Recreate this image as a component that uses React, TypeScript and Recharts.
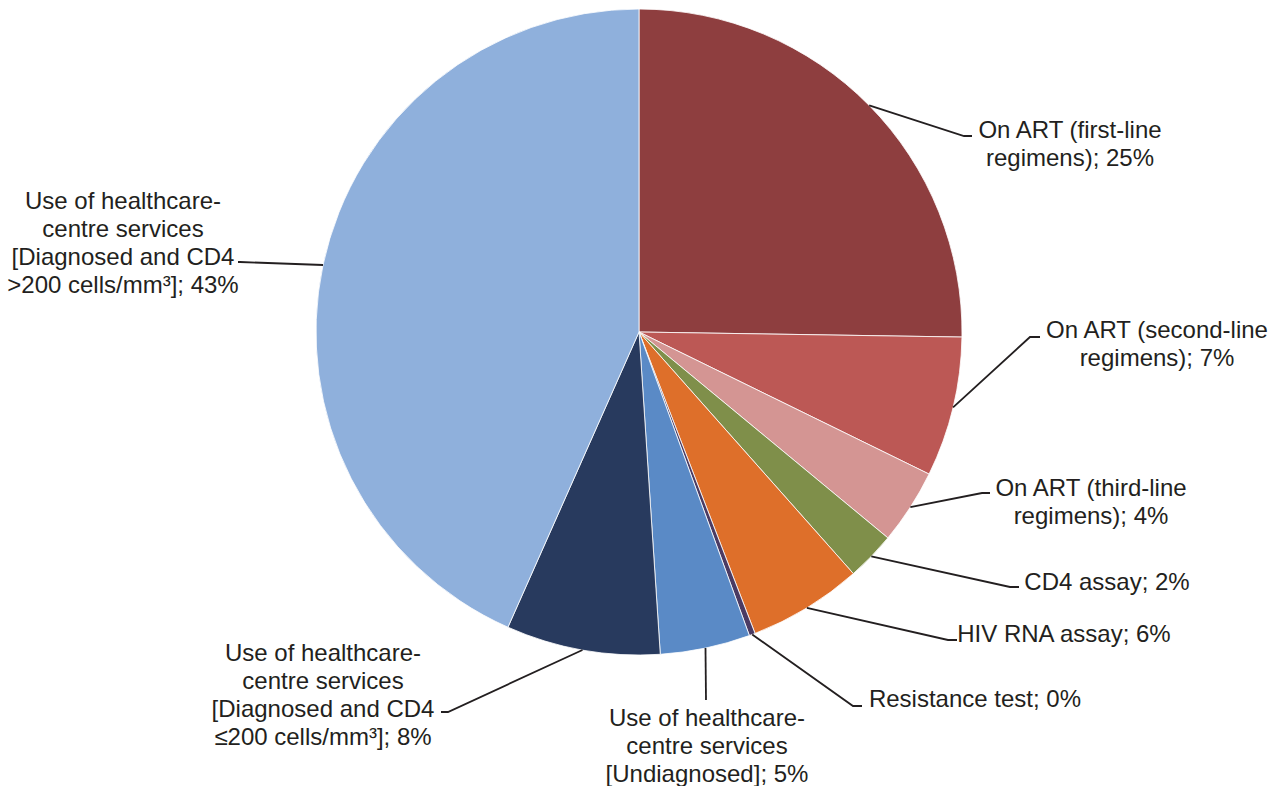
import { PieChart, Pie, Cell } from "recharts";

const categories = [
  "On ART (first-line regimens)",
  "On ART (second-line regimens)",
  "On ART (third-line regimens)",
  "CD4 assay",
  "HIV RNA assay",
  "Resistance test",
  "Use of healthcare-centre services [Undiagnosed]",
  "Use of healthcare-centre services [Diagnosed and CD4 ≤200 cells/mm³]",
  "Use of healthcare-centre services [Diagnosed and CD4 >200 cells/mm³]",
];

const shares = [25.25, 7.0, 3.75, 2.45, 5.7, 0.3, 4.5, 7.7, 43.35];

// label text broken into lines as in the original, percentage gets added to the last one
const labelLines = [
  ["On ART (first-line", "regimens)"],
  ["On ART (second-line", "regimens)"],
  ["On ART (third-line", "regimens)"],
  ["CD4 assay"],
  ["HIV RNA assay"],
  ["Resistance test"],
  ["Use of healthcare-", "centre services", "[Undiagnosed]"],
  ["Use of healthcare-", "centre services", "[Diagnosed and CD4", "≤200 cells/mm³]"],
  ["Use of healthcare-", "centre services", "[Diagnosed and CD4", ">200 cells/mm³]"],
];

const colors = [
  "#8E3E3F",
  "#BC5855",
  "#D49593",
  "#7F8F4A",
  "#DE6F2A",
  "#4B3B63",
  "#5A8AC6",
  "#283A5E",
  "#8FB0DC",
];

const data = categories.map((name, i) => ({ name, value: shares[i] }));

// where each leader line bends / ends and where its text box sits
const labelLayout = [
  { bend: [964, 136], end: [972, 136], tx: 1070, ty: 129 },
  { bend: [1030, 337], end: [1040, 337], tx: 1157, ty: 329 },
  { bend: [982, 493], end: [990, 493], tx: 1091, ty: 487 },
  { bend: [1010, 587], end: [1019, 587], tx: 1107, ty: 581 },
  { bend: [948, 640], end: [957, 640], tx: 1064, ty: 633 },
  { bend: [853, 706], end: [862, 706], tx: 975, ty: 698 },
  { bend: [706, 700], end: [706, 700], tx: 707, ty: 717 },
  { bend: [448, 712], end: [441, 712], tx: 323, ty: 652 },
  { bend: [240, 262], end: [238, 262], tx: 123, ty: 200 },
];

const RAD = Math.PI / 180;

function renderLabel(props: any) {
  const { cx, cy, midAngle, outerRadius, index, value } = props;
  const sx = cx + outerRadius * Math.cos(-midAngle * RAD);
  const sy = cy + outerRadius * Math.sin(-midAngle * RAD);
  const l = labelLayout[index];
  const lines = labelLines[index].slice();
  lines[lines.length - 1] = lines[lines.length - 1] + "; " + Math.round(value) + "%";
  return (
    <g key={"lbl" + index}>
      <polyline
        points={`${sx},${sy} ${l.bend[0]},${l.bend[1]} ${l.end[0]},${l.end[1]}`}
        fill="none"
        stroke="#231F20"
        strokeWidth={1.8}
      />
      <text
        x={l.tx}
        y={l.ty}
        textAnchor="middle"
        dominantBaseline="central"
        fontSize={24}
        fontFamily="'Liberation Sans', Arial, sans-serif"
        fill="#231F20"
      >
        {lines.map((t, k) => (
          <tspan key={k} x={l.tx} dy={k === 0 ? 0 : 28}>
            {t}
          </tspan>
        ))}
      </text>
    </g>
  );
}

export default function App() {
  return (
    <div style={{ position: "absolute", left: 0, top: 0, width: 1274, height: 786, background: "#fff" }}>
      <PieChart width={1274} height={786} margin={{ top: 0, right: 0, bottom: 0, left: 0 }}>
        <Pie
          data={data}
          dataKey="value"
          nameKey="name"
          cx={639}
          cy={332}
          outerRadius={323}
          startAngle={90}
          endAngle={-270}
          stroke="#ffffff"
          strokeWidth={0.8}
          label={renderLabel}
          labelLine={false}
          isAnimationActive={false}
        >
          {data.map((d, i) => (
            <Cell key={d.name} fill={colors[i]} />
          ))}
        </Pie>
      </PieChart>
    </div>
  );
}
